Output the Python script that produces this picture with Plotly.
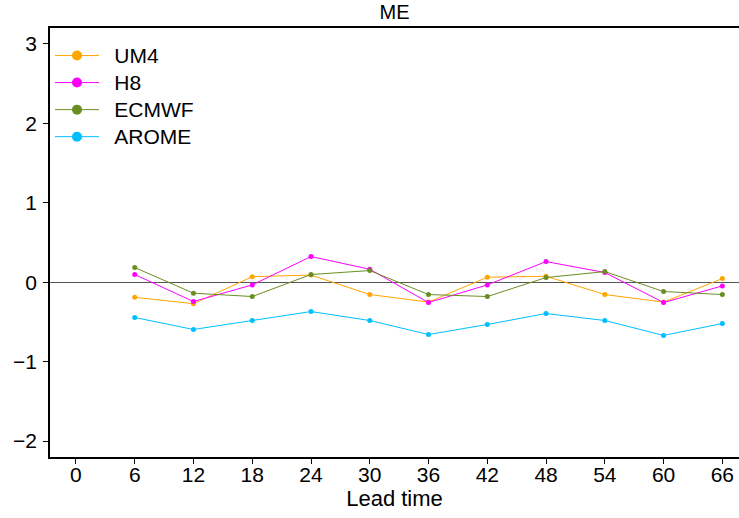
import plotly.graph_objects as go

lead_time = [6, 12, 18, 24, 30, 36, 42, 48, 54, 60, 66]
um4 = [-0.19, -0.27, 0.07, 0.09, -0.155, -0.25, 0.063, 0.075, -0.155, -0.25, 0.046]
h8 = [0.097, -0.243, -0.034, 0.323, 0.163, -0.256, -0.034, 0.26, 0.122, -0.256, -0.046]
ecmwf = [0.185, -0.138, -0.18, 0.097, 0.147, -0.155, -0.18, 0.059, 0.134, -0.117, -0.155]
arome = [-0.444, -0.595, -0.482, -0.369, -0.482, -0.658, -0.532, -0.394, -0.482, -0.67, -0.52]

series = [("UM4", um4, "#FFA500"), ("H8", h8, "#FF00FF"),
          ("ECMWF", ecmwf, "#6B8E23"), ("AROME", arome, "#00BFFF")]
x_ticks = [0, 6, 12, 18, 24, 30, 36, 42, 48, 54, 60, 66]
y_ticks = [-2, -1, 0, 1, 2, 3]

fig = go.Figure()
for name, vals, col in series:
    fig.add_trace(go.Scatter(x=lead_time, y=vals, mode="lines+markers", name=name,
                             line=dict(color=col, width=1), marker=dict(color=col, size=5),
                             showlegend=False))
for name, vals, col in series:
    label = "&nbsp;&nbsp;<span style='font-size:21px'>" + name + "</span>"
    fig.add_trace(go.Scatter(x=[None], y=[None], mode="lines+markers", name=label,
                             line=dict(color=col, width=1), marker=dict(color=col, size=10)))

font = "Liberation Sans, Arial, sans-serif"
fig.update_layout(
    width=739, height=518,
    margin=dict(l=50, r=0, t=28, b=61, autoexpand=False),
    paper_bgcolor="white", plot_bgcolor="white",
    font=dict(family=font, size=21, color="black"),
    title=dict(text="ME", x=(50 + 739) / 2 / 739, xanchor="center", y=1 - 12 / 518,
               yanchor="middle", font=dict(size=20)),
    legend=dict(x=0.0, y=0.979, xanchor="left", yanchor="top", bgcolor="rgba(0,0,0,0)",
                font=dict(size=18.5), tracegroupgap=0, itemwidth=44),
    xaxis=dict(range=[-2.65, 67.7], tickvals=x_ticks, ticktext=[str(v) for v in x_ticks],
               showline=True, linecolor="black", linewidth=1.5, mirror=True, automargin=False,
               ticks="outside", ticklen=5, tickcolor="black", showgrid=False, zeroline=False,
               ticklabelstandoff=-7,
               title=dict(text="Lead time", standoff=0, font=dict(size=22))),
    yaxis=dict(range=[-2.2, 3.2], tickvals=y_ticks, automargin=False,
               ticktext=["\u22122", "\u22121", "0", "1", "2", "3"],
               showline=True, linecolor="black", linewidth=1.5, ticklabelstandoff=2,
               ticks="outside", ticklen=5, tickcolor="black", showgrid=False,
               zeroline=True, zerolinecolor="#555555", zerolinewidth=1),
)
fig.write_html("out.html", config={"displayModeBar": False},
               post_script="document.body.style.margin='0';document.body.style.overflow='hidden';")
